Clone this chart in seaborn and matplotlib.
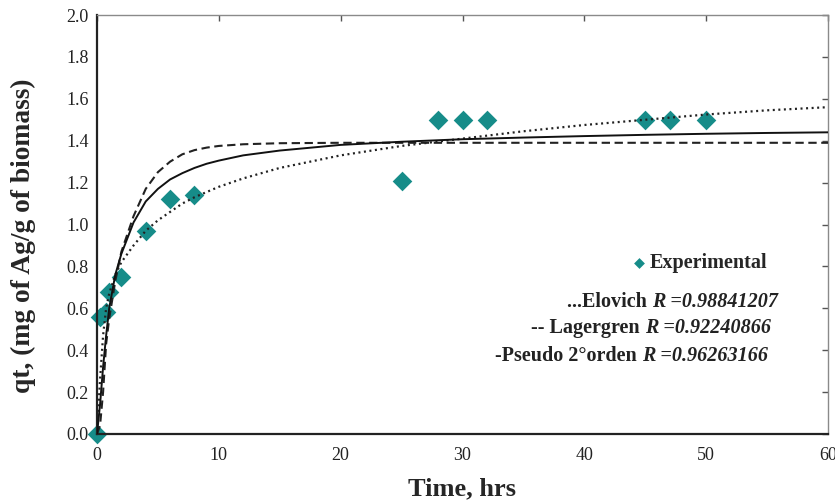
import matplotlib
matplotlib.use("Agg")
import matplotlib.pyplot as plt
import pandas as pd
import seaborn as sns

# Experimental data
exp_time = [0, 0.25, 0.75, 1, 2, 4, 6, 8, 25, 28, 30, 32, 45, 47, 50]
exp_qt = [0.0, 0.56, 0.58, 0.68, 0.75, 0.97, 1.12, 1.14, 1.21, 1.50, 1.50, 1.50, 1.50, 1.50, 1.50]

# Model curves
model_time = [0, 0.25, 0.5, 0.75, 1, 1.5, 2, 3, 4, 5, 6, 7, 8, 9, 10, 12, 15, 20, 25, 30, 35, 40, 45, 50, 55, 60]
elovich_qt = [0, 0.26, 0.47, 0.60, 0.67, 0.76, 0.82, 0.90, 0.97, 1.02, 1.06, 1.10, 1.13, 1.155, 1.18, 1.22, 1.27,
              1.33, 1.375, 1.41, 1.445, 1.475, 1.50, 1.525, 1.545, 1.56]
lagergren_qt = [0, 0.04, 0.20, 0.43, 0.55, 0.73, 0.87, 1.04, 1.17, 1.25, 1.30, 1.335, 1.355, 1.367, 1.375, 1.383,
                1.388, 1.39, 1.39, 1.39, 1.39, 1.39, 1.39, 1.39, 1.39, 1.39]
pseudo2_qt = [0, 0.14, 0.32, 0.47, 0.60, 0.76, 0.86, 1.01, 1.11, 1.17, 1.215, 1.245, 1.27, 1.29, 1.305, 1.33, 1.353,
              1.38, 1.395, 1.407, 1.415, 1.422, 1.428, 1.433, 1.437, 1.44]

legend_labels = ["...Elovich ", "-- Lagergren ", "-Pseudo 2°orden "]
r_labels = ["R =0.98841207", "R =0.92240866", "R =0.96263166"]

sns.set_theme(style="white")
plt.rcParams["font.family"] = ["Liberation Serif", "DejaVu Serif"]

teal = "#168c89"
fig = plt.figure(figsize=(8.35, 5.01), dpi=100)
ax = fig.add_axes([97 / 835, 67 / 501, 731 / 835, 419 / 501])

exp_df = pd.DataFrame({"t": exp_time, "q": exp_qt})
sns.scatterplot(data=exp_df, x="t", y="q", marker="D", s=100, color=teal, edgecolor=teal,
                linewidth=0, ax=ax, zorder=2, label="Experimental", clip_on=False)

mdf = pd.DataFrame({"t": model_time, "el": elovich_qt, "lg": lagergren_qt, "ps": pseudo2_qt})
sns.lineplot(data=mdf, x="t", y="el", estimator=None, sort=False, color="#222222", lw=1.6, ax=ax, zorder=3)
ax.lines[-1].set_linestyle((0, (0.9, 1.6)))
sns.lineplot(data=mdf, x="t", y="lg", estimator=None, sort=False, color="#222222", lw=1.5, ax=ax, zorder=3)
ax.lines[-1].set_linestyle((0, (4.0, 2.2)))
sns.lineplot(data=mdf, x="t", y="ps", estimator=None, sort=False, color="#111111", lw=1.4, ax=ax, zorder=3)

ax.set_xlim(0, 60)
ax.set_ylim(0, 2.0)
ax.set_xticks([0, 10, 20, 30, 40, 50, 60])
ax.set_yticks([0.0, 0.2, 0.4, 0.6, 0.8, 1.0, 1.2, 1.4, 1.6, 1.8, 2.0])
ax.set_yticklabels([f"{v:.1f}" for v in ax.get_yticks()])
ax.tick_params(axis="both", direction="in", length=4, width=1, colors="#555555",
               labelcolor="#222222", labelsize=13, top=True, right=True)
ax.tick_params(axis="x", pad=9)
ax.tick_params(axis="y", pad=6)

for side in ["left", "bottom"]:
    ax.spines[side].set_color("#222222")
    ax.spines[side].set_linewidth(1.6)
for side in ["top", "right"]:
    ax.spines[side].set_color("#8a8a8a")
    ax.spines[side].set_linewidth(1.0)

ax.set_xlabel("Time, hrs", fontsize=19, fontweight="bold", labelpad=10)
ax.set_ylabel("qt, (mg of Ag/g of biomass)", fontsize=19.8, fontweight="bold")
ax.yaxis.set_label_coords(-0.084, 0.473)

leg = ax.legend(loc="center left", bbox_to_anchor=(0.735, 0.408), frameon=False,
                markerscale=0.55, handlelength=0.5, handletextpad=0.25, borderpad=0,
                borderaxespad=0, prop={"family": "Liberation Serif", "weight": "bold", "size": 14.5})

r_x = [0.932, 0.922, 0.918]
r_y = [0.315, 0.253, 0.186]
for lab, rl, x, y in zip(legend_labels, r_labels, r_x, r_y):
    t_r = ax.text(x, y, rl, transform=ax.transAxes, ha="right", va="center",
                  fontsize=14.5, fontweight="bold", fontstyle="italic", color="#222222")
    ax.annotate(lab, xy=(0, 0.5), xycoords=t_r, ha="right", va="center",
                fontsize=14.5, fontweight="bold", color="#222222")

fig.savefig("out.png", dpi=100)
